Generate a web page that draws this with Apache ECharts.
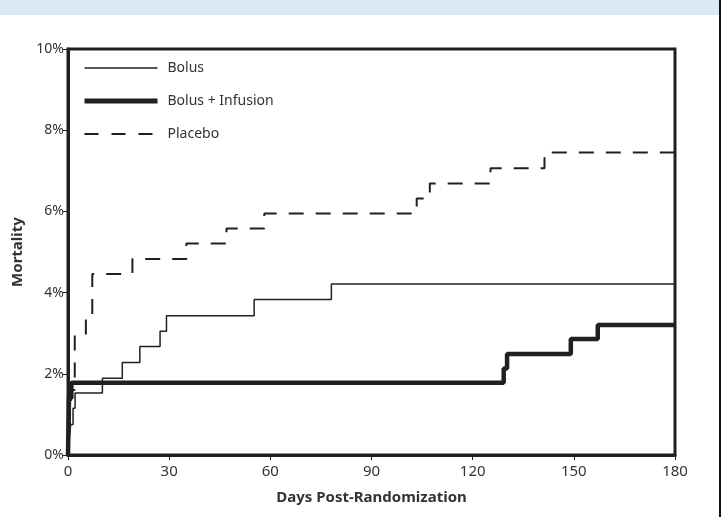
<!DOCTYPE html>
<html>
<head>
<meta charset="utf-8">
<script src="https://cdn.jsdelivr.net/npm/echarts@6/dist/echarts.min.js"></script>
<style>
  html, body { margin: 0; padding: 0; background: #fff; }
  #main { width: 725px; height: 517px; }
</style>
</head>
<body>
<div id="main"></div>
<script>
// Kaplan-Meier style step data: [day, mortality %]
var bolus = [
  [0, 0], [0.3, 0.37], [0.8, 0.75], [1.5, 1.15], [2.1, 1.53], [10.2, 1.89],
  [16.1, 2.28], [21.3, 2.67], [27.3, 3.05], [29.2, 3.43], [55.2, 3.83],
  [78.1, 4.21], [180, 4.21]
];
var bolusInfusion = [
  [0, 0], [0.3, 1.4], [1, 1.78], [129.2, 2.13], [130.2, 2.49],
  [149.1, 2.86], [157.1, 3.2], [180, 3.2]
];
var placebo = [
  [0, 0], [0.5, 0.8], [1, 1.6], [2, 2.96], [5.3, 3.35], [7.2, 4.46],
  [19.1, 4.83], [35.1, 5.21], [47, 5.58], [58.2, 5.95], [103.4, 6.32],
  [107.3, 6.69], [125.3, 7.06], [141.3, 7.45], [180, 7.45]
];
var xTicks = [0, 30, 60, 90, 120, 150, 180];
var yTicks = [0, 2, 4, 6, 8, 10];

var ink = "#231f20";
var font = "'Noto Sans', 'DejaVu Sans', sans-serif";

var chart = echarts.init(document.getElementById("main"));
chart.setOption({
  animation: false,
  graphic: [
    { type: "rect", shape: { x: 0, y: 0, width: 719, height: 15 }, style: { fill: "#dde8f5" } },
    { type: "line", shape: { x1: 720, y1: 0, x2: 720, y2: 517 }, style: { stroke: "#111", lineWidth: 2 } }
  ],
  grid: {
    left: 68, right: 50, top: 49, bottom: 62,
    show: true, borderColor: ink, borderWidth: 3, backgroundColor: "transparent"
  },
  legend: {
    orient: "vertical",
    left: 82, top: 61, padding: 0,
    itemWidth: 73, itemHeight: 14, itemGap: 19,
    textStyle: { fontFamily: font, fontSize: 14, color: "#333", padding: [0, 0, 0, 5] },
    data: [
      { name: "Bolus", itemStyle: { opacity: 0 }, lineStyle: { width: 1.5 } },
      { name: "Bolus + Infusion", itemStyle: { opacity: 0 }, lineStyle: { width: 5 } },
      { name: "Placebo", itemStyle: { opacity: 0 }, lineStyle: { width: 2, type: [14, 13] } }
    ]
  },
  xAxis: {
    type: "value", min: 0, max: 180, interval: 30,
    name: "Days Post-Randomization", nameLocation: "middle", nameGap: 35,
    nameTextStyle: { fontFamily: font, fontSize: 15, fontWeight: "bold", color: "#333" },
    axisLine: { lineStyle: { color: ink, width: 3 } },
    axisTick: { show: true, length: 5, lineStyle: { color: ink, width: 1 } },
    axisLabel: {
      fontFamily: font, fontSize: 15, color: "#333", margin: 9,
      formatter: function (v) { return xTicks.indexOf(v) >= 0 ? String(v) : ""; }
    },
    splitLine: { show: false }
  },
  yAxis: {
    type: "value", min: 0, max: 10, interval: 2,
    name: "Mortality", nameLocation: "middle", nameGap: 42, nameRotate: 90,
    nameTextStyle: { fontFamily: font, fontSize: 15, fontWeight: "bold", color: "#333" },
    axisLine: { show: true, lineStyle: { color: ink, width: 3 } },
    axisTick: { show: true, length: 5, lineStyle: { color: ink, width: 1 } },
    axisLabel: {
      fontFamily: font, fontSize: 14, color: "#333", margin: 4,
      formatter: function (v) { return yTicks.indexOf(v) >= 0 ? v + "%" : ""; }
    },
    splitLine: { show: false }
  },
  series: [
    {
      name: "Bolus", type: "line", step: "end", data: bolus,
      symbol: "none", color: ink,
      lineStyle: { color: ink, width: 1.5 }
    },
    {
      name: "Bolus + Infusion", type: "line", step: "end", data: bolusInfusion,
      symbol: "none", color: ink,
      lineStyle: { color: ink, width: 4.5 }
    },
    {
      name: "Placebo", type: "line", step: "end", data: placebo,
      symbol: "none", color: ink,
      lineStyle: { color: ink, width: 2, type: [15, 12] }
    }
  ]
});
</script>
</body>
</html>
